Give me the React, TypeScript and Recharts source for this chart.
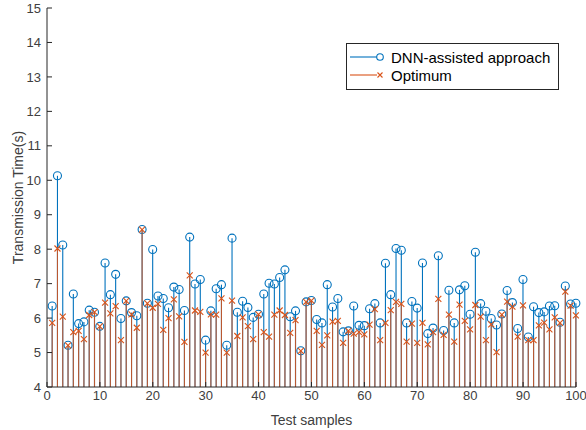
import React from 'react';
import { ComposedChart, Bar, XAxis, YAxis, Label } from 'recharts';

// transmission time of each test sample
const dnnTime = [
  6.35, 10.13, 8.12, 5.21, 6.7, 5.84, 5.89, 6.23, 6.17, 5.76,
  7.6, 6.68, 7.27, 5.99, 6.5, 6.16, 6.07, 8.57, 6.43, 7.99,
  6.64, 6.57, 6.3, 6.9, 6.83, 6.22, 8.35, 6.99, 7.12, 5.36,
  6.21, 6.85, 6.97, 5.21, 8.32, 6.17, 6.49, 6.31, 6.02, 6.11,
  6.7, 7.01, 6.99, 7.18, 7.4, 6.04, 6.21, 5.05, 6.47, 6.51,
  5.96, 5.86, 6.97, 6.32, 6.57, 5.6, 5.63, 6.35, 5.79, 5.78,
  6.27, 6.42, 5.86, 7.59, 6.68, 8.02, 7.97, 5.86, 6.48, 6.29,
  7.6, 5.55, 5.71, 7.81, 5.64, 6.81, 5.86, 6.82, 6.94, 6.11,
  7.91, 6.42, 6.2, 5.99, 5.8, 6.12, 6.8, 6.45, 5.7, 7.12,
  5.45, 6.33, 6.16, 6.18, 6.35, 6.36, 5.88, 6.93, 6.41, 6.43,
];
const optTime = [
  5.86, 8.02, 6.04, 5.21, 5.59, 5.63, 5.39, 6.09, 6.17, 5.76,
  6.45, 6.14, 6.35, 5.36, 6.5, 6.11, 5.72, 8.57, 6.43, 6.3,
  6.41, 5.66, 6.0, 6.54, 6.05, 5.31, 7.24, 6.22, 6.18, 5.0,
  6.11, 6.1, 6.57, 5.0, 6.51, 5.48, 6.02, 5.77, 5.39, 6.11,
  5.59, 5.46, 6.1, 6.22, 6.09, 5.57, 5.94, 5.05, 6.47, 6.51,
  5.63, 5.22, 5.5, 5.9, 5.92, 5.28, 5.63, 5.55, 5.59, 5.53,
  5.81, 6.26, 5.36, 5.86, 6.23, 6.47, 6.41, 5.32, 5.84, 5.28,
  5.86, 5.24, 5.59, 6.56, 5.51, 6.1, 5.32, 6.39, 5.92, 5.67,
  6.38, 6.04, 5.36, 5.82, 5.01, 6.1, 6.48, 6.33, 5.46, 6.37,
  5.36, 5.36, 5.79, 5.87, 5.67, 6.02, 5.86, 6.77, 6.36, 6.08,
];
const xTicks = [0, 10, 20, 30, 40, 50, 60, 70, 80, 90, 100];
const yTicks = [4, 5, 6, 7, 8, 9, 10, 11, 12, 13, 14, 15];

const data = dnnTime.map((v, i) => ({ sample: i + 1, dnn: v, opt: optTime[i] }));

const BLUE = '#0072BD';
const RED = '#D95319';
const AXIS = '#262626';
const TEXT = '#404040';
const FONT = 'Liberation Sans, Arial, sans-serif';

const CircleStem = (props: any) => {
  const { x, y, width, height } = props;
  const cx = x + width / 2;
  return (
    <g>
      <line x1={cx} x2={cx} y1={y} y2={y + height} stroke={BLUE} strokeWidth={1.1} />
      <circle cx={cx} cy={y} r={4} fill="none" stroke={BLUE} strokeWidth={1.1} />
    </g>
  );
};

const CrossStem = (props: any) => {
  const { x, y, width, height } = props;
  const cx = x + width / 2;
  const s = 3;
  return (
    <g>
      <line x1={cx} x2={cx} y1={y} y2={y + height} stroke={RED} strokeWidth={1.1} strokeOpacity={0.85} />
      <path d={`M${cx - s},${y - s}L${cx + s},${y + s}M${cx - s},${y + s}L${cx + s},${y - s}`} stroke={RED} strokeWidth={1.1} />
    </g>
  );
};

const LegendBox = () => (
  <div
    style={{
      position: 'absolute',
      left: 346,
      top: 43,
      border: '1px solid #262626',
      background: '#fff',
      width: 213,
      height: 47,
      boxSizing: 'border-box',
      fontFamily: FONT,
      fontSize: 15,
      color: '#000',
      paddingTop: 4,
    }}
  >
    <div style={{ display: 'flex', alignItems: 'center', height: 18 }}>
      <svg width={44} height={18}>
        <line x1={3} x2={30} y1={9} y2={9} stroke={BLUE} strokeWidth={1.1} />
        <circle cx={33} cy={9} r={3.3} fill="#fff" stroke={BLUE} strokeWidth={1.1} />
      </svg>
      <span>DNN-assisted approach</span>
    </div>
    <div style={{ display: 'flex', alignItems: 'center', height: 18 }}>
      <svg width={44} height={18}>
        <line x1={3} x2={30} y1={9} y2={9} stroke={RED} strokeWidth={1.1} />
        <path d="M30.5,6.5L35.5,11.5M30.5,11.5L35.5,6.5" stroke={RED} strokeWidth={1.1} />
      </svg>
      <span>Optimum</span>
    </div>
  </div>
);

const tickStyle = { fontSize: 13, fill: TEXT, fontFamily: FONT };

export default function App() {
  return (
    <div style={{ position: 'absolute', left: 0, top: 0, width: 586, height: 430, background: '#fff' }}>
      <ComposedChart
        width={586}
        height={430}
        data={data}
        margin={{ top: 8, right: 10, bottom: 0, left: 0 }}
      >
        <XAxis
          xAxisId="bottom"
          dataKey="sample"
          type="number"
          domain={[0, 100]}
          ticks={xTicks}
          height={43}
          stroke={AXIS}
          tickSize={-5}
          tickMargin={9}
          tick={tickStyle}
          interval={0}
        >
          <Label
            value="Test samples"
            position="insideBottom"
            offset={5}
            style={{ fontSize: 14, fill: TEXT, fontFamily: FONT }}
          />
        </XAxis>
        <XAxis
          xAxisId="top"
          orientation="top"
          dataKey="sample"
          type="number"
          domain={[0, 100]}
          ticks={xTicks}
          height={0}
          stroke={AXIS}
          tickSize={-5}
          tick={false}
        />
        <YAxis
          yAxisId="left"
          type="number"
          domain={[4, 15]}
          ticks={yTicks}
          width={47}
          stroke={AXIS}
          tickSize={-5}
          tickMargin={11}
          tick={tickStyle}
          interval={0}
        >
          <Label
            value="Transmission Time(s)"
            angle={-90}
            position="insideLeft"
            offset={18}
            style={{ fontSize: 14, fill: TEXT, fontFamily: FONT, textAnchor: 'middle' }}
          />
        </YAxis>
        <YAxis
          yAxisId="right"
          orientation="right"
          type="number"
          domain={[4, 15]}
          ticks={yTicks}
          width={0}
          stroke={AXIS}
          tickSize={-5}
          tick={false}
        />
        <Bar
          dataKey="dnn"
          xAxisId="bottom"
          yAxisId="left"
          shape={<CircleStem />}
          isAnimationActive={false}
        />
        <Bar
          dataKey="opt"
          xAxisId="top"
          yAxisId="right"
          shape={<CrossStem />}
          isAnimationActive={false}
        />
      </ComposedChart>
      <LegendBox />
    </div>
  );
}
